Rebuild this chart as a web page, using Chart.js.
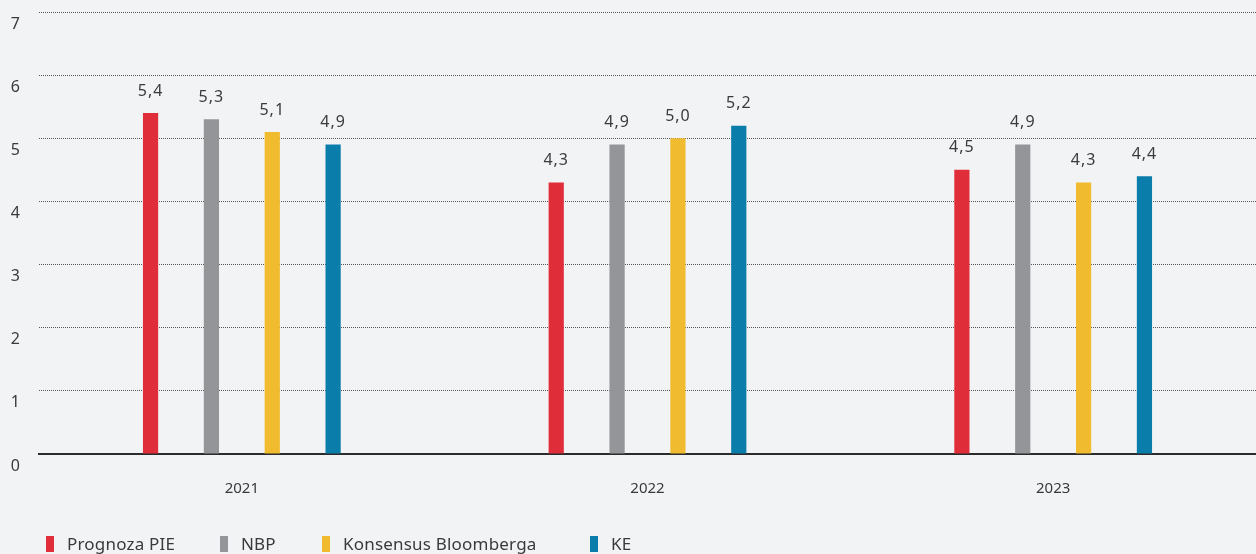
<!DOCTYPE html>
<html>
<head>
<meta charset="utf-8">
<script src="https://cdn.jsdelivr.net/npm/chart.js@4"></script>
<style>
  html, body { margin: 0; padding: 0; background: #f2f3f5; }
  .wrap { position: relative; width: 1256px; height: 554px; }
  .legend { position: absolute; top: 532px; left: 0; width: 100%; height: 22px;
    font-family: "Noto Sans", sans-serif; font-size: 17px; color: #3a3a3a; letter-spacing: 0.2px; }
  .legend span.item { position: absolute; top: 0; white-space: nowrap; }
  .legend i { display: inline-block; width: 8px; height: 16px; vertical-align: -2px; margin-right: 13px; }
</style>
</head>
<body>
<div class="wrap">
  <canvas id="chart" width="1256" height="554"></canvas>
  <div class="legend" id="legend"></div>
</div>
<script>
const years = ['2021', '2022', '2023'];
const seriesNames = ['Prognoza PIE', 'NBP', 'Konsensus Bloomberga', 'KE'];
const pie = [5.4, 4.3, 4.5];
const nbp = [5.3, 4.9, 4.9];
const bloomberg = [5.1, 5.0, 4.3];
const ke = [4.9, 5.2, 4.4];
const yTicks = [0, 1, 2, 3, 4, 5, 6, 7];

const colors = ['#e02d3a', '#939598', '#f0bb2e', '#0a7daa'];
const legendLeft = [46, 220, 322, 590];

// value labels above the bars, decimal comma
const barLabels = {
    id: 'barLabels',
    afterDatasetsDraw(chart) {
        const ctx = chart.ctx;
        ctx.save();
        ctx.font = '16px "Noto Sans", sans-serif';
        ctx.letterSpacing = '1px';
        ctx.fillStyle = '#3a3a3a';
        ctx.textAlign = 'center';
        ctx.textBaseline = 'bottom';
        chart.data.datasets.forEach((ds, i) => {
            chart.getDatasetMeta(i).data.forEach((bar, j) => {
                ctx.fillText(ds.data[j].toFixed(1).replace('.', ','), bar.x, bar.y - 14);
            });
        });
        ctx.restore();
    }
};

const allSeries = [pie, nbp, bloomberg, ke];

const ctx = document.getElementById('chart').getContext('2d');
const myChart = new Chart(ctx, {
    type: 'bar',
    data: {
        labels: years,
        datasets: allSeries.map((d, i) => ({
            label: seriesNames[i],
            data: d,
            backgroundColor: colors[i],
            borderWidth: 0,
            barPercentage: 0.25,
            categoryPercentage: 0.6
        }))
    },
    options: {
        responsive: false,
        animation: false,
        layout: { padding: { top: 12, right: 0, left: 0, bottom: 0 } },
        plugins: {
            legend: { display: false },
            tooltip: { enabled: false }
        },
        scales: {
            x: {
                grid: { display: false },
                border: { display: true, color: '#2b2b2b', width: 2 },
                ticks: {
                    color: '#3a3a3a',
                    font: { family: 'Noto Sans', size: 15 },
                    padding: 18,
                    maxRotation: 0
                },
                afterFit: (scale) => { scale.height = 100; }
            },
            y: {
                min: 0,
                max: 7,
                afterBuildTicks: (scale) => { scale.ticks = yTicks.map(v => ({ value: v })); },
                grid: {
                    color: (c) => c.tick && c.tick.value === 0 ? 'rgba(0,0,0,0)' : '#555',
                    lineWidth: 1,
                    drawTicks: false
                },
                border: { display: false, dash: [1, 1] },
                ticks: {
                    color: '#3a3a3a',
                    font: { family: 'Noto Sans', size: 16 },
                    padding: 19,
                    labelOffset: 12
                },
                afterFit: (scale) => {
                    scale.width = 39;
                    scale.paddingTop = 0;
                    scale.paddingBottom = 0;
                }
            }
        }
    },
    plugins: [barLabels]
});

// legend
const legend = document.getElementById('legend');
seriesNames.forEach((name, i) => {
    const item = document.createElement('span');
    item.className = 'item';
    item.style.left = legendLeft[i] + 'px';
    item.innerHTML = '<i style="background:' + colors[i] + '"></i>' + name;
    legend.appendChild(item);
});
</script>
</body>
</html>
